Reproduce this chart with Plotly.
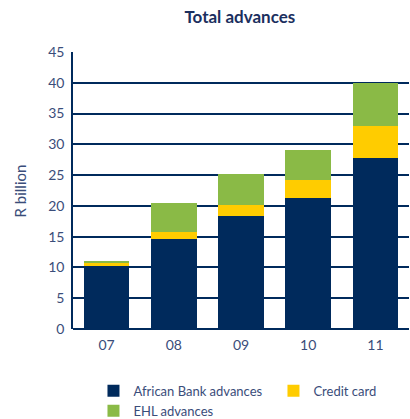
import plotly.graph_objects as go

# Financial years and advances (R billion)
years = ["07", "08", "09", "10", "11"]
african_bank = [10.3, 14.7, 18.3, 21.3, 27.8]
credit_card = [0.5, 1.1, 1.9, 2.9, 5.2]
ehl = [0.15, 4.7, 5.0, 4.8, 7.0]
y_ticks = [0, 5, 10, 15, 20, 25, 30, 35, 40, 45]

NAVY = "#002a5c"
YELLOW = "#ffcc00"
GREEN = "#8aba46"
TEXT = "#3a4d7a"
FONT = "Lato, Noto Sans, sans-serif"


def font(size, color=TEXT, weight="normal"):
    return dict(family=FONT, size=size, color=color, weight=weight)


fig = go.Figure()
fig.add_trace(go.Bar(x=years, y=african_bank, name="African Bank advances",
                     legend="legend",
                     marker=dict(color=NAVY, line=dict(width=0))))
fig.add_trace(go.Bar(x=years, y=credit_card, name="Credit card",
                     legend="legend2",
                     marker=dict(color=YELLOW, line=dict(width=0))))
fig.add_trace(go.Bar(x=years, y=ehl, name="EHL advances",
                     legend="legend",
                     marker=dict(color=GREEN, line=dict(width=0))))

legend_common = dict(orientation="v", xref="container", yref="container",
                     xanchor="left", y=0.103, yanchor="top",
                     font=font(13), itemwidth=30, tracegroupgap=0,
                     traceorder="normal", bgcolor="rgba(0,0,0,0)")

fig.update_layout(
    barmode="stack",
    bargap=0.32,
    width=410,
    height=419,
    margin=dict(l=73, r=1, t=52, b=90, autoexpand=False),
    paper_bgcolor="white",
    plot_bgcolor="white",
    font=font(14),
    title=dict(text="Total advances", x=0.585, xanchor="center",
               y=0.96, yanchor="middle",
               font=font(17, "#1b2f5e", "bold")),
    showlegend=True,
    legend=dict(x=0.228, **legend_common),
    legend2=dict(x=0.667, **legend_common),
    yaxis=dict(range=[0, 45], tickvals=y_ticks, showgrid=True,
               gridcolor=NAVY, gridwidth=1.6, showline=True, linecolor=NAVY,
               linewidth=1.6, zeroline=True, zerolinecolor=NAVY,
               zerolinewidth=2.2, ticks="", ticklabelstandoff=4),
    xaxis=dict(showgrid=False, showline=False, zeroline=False, ticks="",
               ticklabelstandoff=6),
    annotations=[dict(text="R billion", xref="paper", yref="paper",
                      x=-0.158, y=0.5, xanchor="center", yanchor="middle",
                      textangle=-90, showarrow=False, font=font(15))],
)

fig.write_html("out.html")
